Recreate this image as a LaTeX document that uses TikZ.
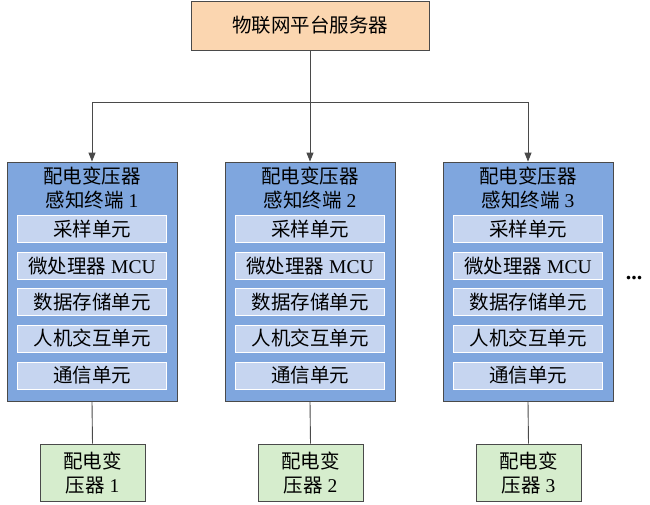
\documentclass[tikz,border=0pt]{standalone}
\usepackage{fontspec}
\setmainfont{Liberation Serif}
\newfontfamily\cjk{Noto Sans CJK SC}
\usetikzlibrary{arrows.meta,positioning}
\definecolor{topfill}{HTML}{FBD6B0}
\definecolor{bigfill}{HTML}{7FA6DE}
\definecolor{innerfill}{HTML}{C6D5F0}
\definecolor{greenfill}{HTML}{D6EDCD}
\definecolor{edgegray}{HTML}{4A4A4A}
\tikzset{
  x=1pt,y=-1pt,
  every node/.style={font=\fontsize{19.5}{24}\selectfont, inner sep=0pt},
  topbox/.style={draw=edgegray, fill=topfill, minimum width=238pt, minimum height=49pt, line width=0.8pt},
  bigbox/.style={draw=edgegray, fill=bigfill, minimum width=170pt, minimum height=239pt, line width=0.8pt},
  innerbox/.style={draw=white, fill=innerfill, minimum width=149pt, minimum height=27pt, line width=0.9pt},
  greenbox/.style={draw=edgegray, fill=greenfill, minimum width=105pt, minimum height=57pt, line width=0.8pt, align=center},
  conn/.style={draw=edgegray, line width=0.9pt},
  arr/.style={conn, -{Triangle[length=9pt,width=7pt]}}
}
\newcommand{\termunit}[3]{%
  \node[bigbox] (b#1) at (#2,281.5) {};
  \node[align=center] (t#1) at (#2,188) {{\cjk 配电变压器}\\{\cjk 感知终端} #1};
  \node[innerbox] (s#1) at (#2,229) {\cjk 采样单元};
  \node[innerbox] (m#1) at (#2,266) {{\cjk 微处理器} MCU};
  \node[innerbox] (d#1) at (#2,302) {\cjk 数据存储单元};
  \node[innerbox] (h#1) at (#2,338.5) {\cjk 人机交互单元};
  \node[innerbox] (c#1) at (#2,375.5) {\cjk 通信单元};
  \node[greenbox] (g#1) at (#3,472.5) {{\cjk 配电变}\\{\cjk 压器} #1};
  \draw[conn] (b#1.south) -- (g#1.north);
}
\begin{document}
\begin{tikzpicture}
\useasboundingbox (0,0) rectangle (650,504);
\node[topbox] (top) at (310,25.5) {\cjk 物联网平台服务器};
\termunit{1}{92}{92.5}
\termunit{2}{310}{310.5}
\termunit{3}{528}{528.5}
\coordinate (split) at (310,102);
\coordinate (l) at (92,102);
\coordinate (r) at (528,102);
\draw[conn] (top.south) -- (split);
\draw[conn] (l) -- (r);
\draw[arr] (l) -- (b1.north);
\draw[arr] (split) -- (b2.north);
\draw[arr] (r) -- (b3.north);
\node (dots) at (634,278) {\fontsize{22}{22}\selectfont\textbf{...}};
\end{tikzpicture}
\end{document}
